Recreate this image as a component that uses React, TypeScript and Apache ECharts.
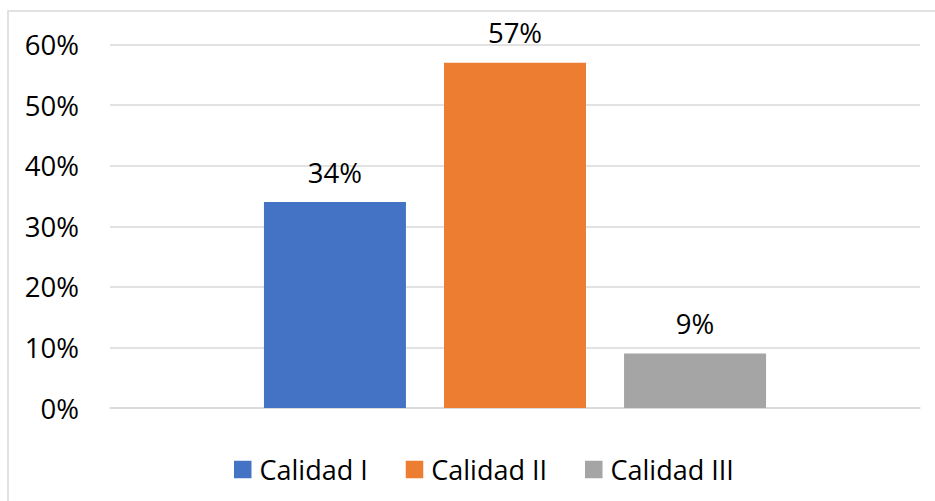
import React, { useEffect, useRef } from "react";
import * as echarts from "echarts";

const categories = [""];
const seriesNames = ["Calidad I", "Calidad II", "Calidad III"];
const seriesValues = [[0.34], [0.57], [0.09]];
const seriesColors = ["#4472C4", "#ED7D31", "#A5A5A5"];
const yMax = 0.6;
const yInterval = 0.1;

const FONT = "Open Sans";

export default function App() {
  const ref = useRef<HTMLDivElement>(null);
  useEffect(() => {
    if (!ref.current) return;
    const chart = echarts.init(ref.current, undefined, { renderer: "svg" });
    chart.setOption({
      animation: false,
      backgroundColor: "#ffffff",
      textStyle: { fontFamily: FONT },
      graphic: [
        {
          type: "rect",
          shape: { x: 8, y: 11, width: 940, height: 500 },
          style: { fill: "none", stroke: "#D9D9D9", lineWidth: 1.5 },
          silent: true,
        },
      ],
      grid: { left: 110, right: 15, top: 44.5, bottom: 93, containLabel: false },
      legend: {
        left: 229,
        top: 451,
        itemWidth: 17.5,
        itemHeight: 17.5,
        itemGap: 38,
        icon: "rect",
        textStyle: { fontSize: 27, color: "#000", fontFamily: FONT, padding: [0, 0, 0, 3] },
        data: seriesNames,
      },
      xAxis: {
        type: "category",
        data: categories,
        axisLine: { show: true, lineStyle: { color: "#D9D9D9", width: 1.5 } },
        axisTick: { show: false },
        axisLabel: { show: false },
      },
      yAxis: {
        type: "value",
        min: 0,
        max: yMax,
        interval: yInterval,
        axisLine: { show: false },
        axisTick: { show: false },
        splitLine: { lineStyle: { color: "#D9D9D9", width: 1.5 } },
        axisLabel: {
          margin: 31,
          fontSize: 27.5,
          color: "#000",
          fontFamily: FONT,
          formatter: (v: number) => Math.round(v * 100) + "%",
        },
      },
      series: seriesNames.map((name, i) => ({
        name,
        type: "bar",
        data: seriesValues[i],
        barWidth: 142,
        barGap: "26.8%",
        itemStyle: { color: seriesColors[i] },
        label: {
          show: true,
          position: "top",
          distance: 16,
          fontSize: 27.5,
          color: "#000",
          fontFamily: FONT,
          formatter: (p: any) => Math.round(p.value * 100) + "%",
        },
      })),
    });
    return () => chart.dispose();
  }, []);
  return (
    <div
      ref={ref}
      style={{ position: "fixed", left: 0, top: 0, width: 935, height: 501 }}
    />
  );
}
